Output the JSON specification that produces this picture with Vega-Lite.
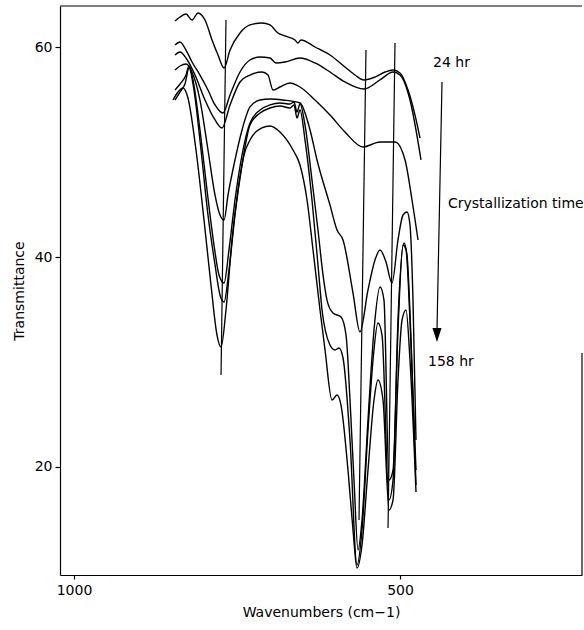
{
  "$schema": "https://vega.github.io/schema/vega-lite/v6.json",
  "width": 522,
  "height": 569,
  "autosize": {"type": "none"},
  "padding": {"left": 60, "top": 6, "right": 2, "bottom": 55},
  "background": "white",
  "config": {
    "view": {"stroke": null},
    "font": "DejaVu Sans",
    "axis": {
      "grid": false,
      "domainColor": "black",
      "domainWidth": 1.2,
      "tickColor": "black",
      "tickWidth": 1.2,
      "labelColor": "black",
      "titleColor": "black",
      "labelFont": "DejaVu Sans",
      "titleFont": "DejaVu Sans",
      "labelFontSize": 14,
      "titleFontSize": 14,
      "titleFontWeight": "normal"
    }
  },
  "datasets": {
    "spectra": [
      {"s": "s1", "wn": 845.1, "t": 62.48}, {"s": "s1", "wn": 837.4, "t": 62.86}, {"s": "s1", "wn": 828.2, "t": 63.14}, {"s": "s1", "wn": 819.0, "t": 62.57}, {"s": "s1", "wn": 809.8, "t": 63.24}, {"s": "s1", "wn": 799.1, "t": 62.57}, {"s": "s1", "wn": 788.3, "t": 60.67}, {"s": "s1", "wn": 779.1, "t": 59.24}, {"s": "s1", "wn": 769.9, "t": 58.0}, {"s": "s1", "wn": 760.7, "t": 59.71}, {"s": "s1", "wn": 745.4, "t": 61.33}, {"s": "s1", "wn": 730.1, "t": 62.1}, {"s": "s1", "wn": 711.7, "t": 62.29}, {"s": "s1", "wn": 699.4, "t": 62.1}, {"s": "s1", "wn": 687.1, "t": 61.33}, {"s": "s1", "wn": 676.4, "t": 61.05}, {"s": "s1", "wn": 661.1, "t": 60.67}, {"s": "s1", "wn": 656.5, "t": 60.38}, {"s": "s1", "wn": 651.9, "t": 60.67}, {"s": "s1", "wn": 630.4, "t": 60.0}, {"s": "s1", "wn": 607.4, "t": 59.24}, {"s": "s1", "wn": 584.4, "t": 58.1}, {"s": "s1", "wn": 569.0, "t": 57.33}, {"s": "s1", "wn": 555.2, "t": 56.86}, {"s": "s1", "wn": 538.4, "t": 57.14}, {"s": "s1", "wn": 523.0, "t": 57.62}, {"s": "s1", "wn": 510.7, "t": 57.81}, {"s": "s1", "wn": 500.0, "t": 57.52}, {"s": "s1", "wn": 487.7, "t": 55.9}, {"s": "s1", "wn": 477.0, "t": 53.52}, {"s": "s1", "wn": 469.3, "t": 51.33},

      {"s": "s2", "wn": 845.1, "t": 60.19}, {"s": "s2", "wn": 837.4, "t": 60.48}, {"s": "s2", "wn": 828.2, "t": 59.71}, {"s": "s2", "wn": 819.0, "t": 58.57}, {"s": "s2", "wn": 806.8, "t": 57.33}, {"s": "s2", "wn": 794.5, "t": 55.9}, {"s": "s2", "wn": 783.7, "t": 54.48}, {"s": "s2", "wn": 771.5, "t": 53.71}, {"s": "s2", "wn": 760.7, "t": 55.43}, {"s": "s2", "wn": 745.4, "t": 57.62}, {"s": "s2", "wn": 730.1, "t": 58.76}, {"s": "s2", "wn": 714.7, "t": 59.05}, {"s": "s2", "wn": 699.4, "t": 58.95}, {"s": "s2", "wn": 690.2, "t": 58.48}, {"s": "s2", "wn": 676.4, "t": 58.57}, {"s": "s2", "wn": 653.4, "t": 58.95}, {"s": "s2", "wn": 630.4, "t": 58.48}, {"s": "s2", "wn": 607.4, "t": 57.62}, {"s": "s2", "wn": 584.4, "t": 56.67}, {"s": "s2", "wn": 555.2, "t": 56.0}, {"s": "s2", "wn": 530.7, "t": 56.86}, {"s": "s2", "wn": 510.7, "t": 57.62}, {"s": "s2", "wn": 500.0, "t": 57.33}, {"s": "s2", "wn": 484.7, "t": 54.95}, {"s": "s2", "wn": 467.8, "t": 49.24},

      {"s": "s3", "wn": 845.1, "t": 59.24}, {"s": "s3", "wn": 837.4, "t": 59.52}, {"s": "s3", "wn": 828.2, "t": 58.95}, {"s": "s3", "wn": 814.4, "t": 57.33}, {"s": "s3", "wn": 799.1, "t": 54.95}, {"s": "s3", "wn": 783.7, "t": 53.05}, {"s": "s3", "wn": 773.0, "t": 52.29}, {"s": "s3", "wn": 760.7, "t": 54.48}, {"s": "s3", "wn": 745.4, "t": 56.67}, {"s": "s3", "wn": 730.1, "t": 57.33}, {"s": "s3", "wn": 711.7, "t": 57.62}, {"s": "s3", "wn": 702.5, "t": 57.33}, {"s": "s3", "wn": 694.8, "t": 55.9}, {"s": "s3", "wn": 684.1, "t": 56.19}, {"s": "s3", "wn": 668.7, "t": 56.57}, {"s": "s3", "wn": 653.4, "t": 56.19}, {"s": "s3", "wn": 630.4, "t": 54.95}, {"s": "s3", "wn": 607.4, "t": 53.52}, {"s": "s3", "wn": 584.4, "t": 51.9}, {"s": "s3", "wn": 556.8, "t": 50.48}, {"s": "s3", "wn": 530.7, "t": 50.95}, {"s": "s3", "wn": 507.7, "t": 50.95}, {"s": "s3", "wn": 492.3, "t": 49.24}, {"s": "s3", "wn": 481.6, "t": 45.43}, {"s": "s3", "wn": 472.4, "t": 41.62},

      {"s": "s4", "wn": 845.1, "t": 57.81}, {"s": "s4", "wn": 837.4, "t": 58.19}, {"s": "s4", "wn": 828.2, "t": 58.38}, {"s": "s4", "wn": 819.0, "t": 57.62}, {"s": "s4", "wn": 806.8, "t": 54.95}, {"s": "s4", "wn": 794.5, "t": 50.19}, {"s": "s4", "wn": 783.7, "t": 45.9}, {"s": "s4", "wn": 776.1, "t": 44.0}, {"s": "s4", "wn": 769.9, "t": 43.52}, {"s": "s4", "wn": 763.8, "t": 45.9}, {"s": "s4", "wn": 753.1, "t": 49.24}, {"s": "s4", "wn": 742.3, "t": 52.1}, {"s": "s4", "wn": 730.1, "t": 54.29}, {"s": "s4", "wn": 714.7, "t": 54.95}, {"s": "s4", "wn": 699.4, "t": 55.05}, {"s": "s4", "wn": 679.5, "t": 54.95}, {"s": "s4", "wn": 653.4, "t": 54.67}, {"s": "s4", "wn": 638.0, "t": 52.1}, {"s": "s4", "wn": 627.3, "t": 49.24}, {"s": "s4", "wn": 607.4, "t": 44.95}, {"s": "s4", "wn": 596.6, "t": 42.57}, {"s": "s4", "wn": 587.4, "t": 41.62}, {"s": "s4", "wn": 572.1, "t": 36.57}, {"s": "s4", "wn": 561.4, "t": 32.86}, {"s": "s4", "wn": 549.1, "t": 36.86}, {"s": "s4", "wn": 538.4, "t": 39.71}, {"s": "s4", "wn": 530.7, "t": 40.67}, {"s": "s4", "wn": 521.5, "t": 39.52}, {"s": "s4", "wn": 512.3, "t": 37.52}, {"s": "s4", "wn": 503.1, "t": 41.62}, {"s": "s4", "wn": 495.4, "t": 44.0}, {"s": "s4", "wn": 489.3, "t": 44.29}, {"s": "s4", "wn": 484.7, "t": 43.05}, {"s": "s4", "wn": 480.1, "t": 35.9}, {"s": "s4", "wn": 475.5, "t": 22.57},

      {"s": "s5", "wn": 845.1, "t": 55.9}, {"s": "s5", "wn": 837.4, "t": 56.48}, {"s": "s5", "wn": 828.2, "t": 57.33}, {"s": "s5", "wn": 823.6, "t": 58.19}, {"s": "s5", "wn": 817.5, "t": 56.86}, {"s": "s5", "wn": 806.8, "t": 52.1}, {"s": "s5", "wn": 796.0, "t": 46.38}, {"s": "s5", "wn": 785.3, "t": 41.14}, {"s": "s5", "wn": 777.6, "t": 38.29}, {"s": "s5", "wn": 769.9, "t": 37.52}, {"s": "s5", "wn": 762.3, "t": 40.67}, {"s": "s5", "wn": 753.1, "t": 45.43}, {"s": "s5", "wn": 742.3, "t": 49.71}, {"s": "s5", "wn": 730.1, "t": 52.76}, {"s": "s5", "wn": 714.7, "t": 54.0}, {"s": "s5", "wn": 699.4, "t": 54.48}, {"s": "s5", "wn": 684.1, "t": 54.67}, {"s": "s5", "wn": 668.7, "t": 54.57}, {"s": "s5", "wn": 662.6, "t": 54.76}, {"s": "s5", "wn": 658.0, "t": 53.81}, {"s": "s5", "wn": 653.4, "t": 54.57}, {"s": "s5", "wn": 645.7, "t": 52.57}, {"s": "s5", "wn": 635.0, "t": 47.33}, {"s": "s5", "wn": 625.8, "t": 42.57}, {"s": "s5", "wn": 618.1, "t": 38.29}, {"s": "s5", "wn": 612.0, "t": 35.9}, {"s": "s5", "wn": 602.8, "t": 34.67}, {"s": "s5", "wn": 590.5, "t": 34.29}, {"s": "s5", "wn": 582.8, "t": 32.57}, {"s": "s5", "wn": 576.7, "t": 26.38}, {"s": "s5", "wn": 570.6, "t": 18.76}, {"s": "s5", "wn": 564.4, "t": 12.1}, {"s": "s5", "wn": 558.3, "t": 14.95}, {"s": "s5", "wn": 549.1, "t": 24.48}, {"s": "s5", "wn": 539.9, "t": 33.05}, {"s": "s5", "wn": 530.7, "t": 37.14}, {"s": "s5", "wn": 524.6, "t": 35.9}, {"s": "s5", "wn": 516.9, "t": 18.76}, {"s": "s5", "wn": 510.7, "t": 19.71}, {"s": "s5", "wn": 503.1, "t": 33.05}, {"s": "s5", "wn": 495.4, "t": 41.14}, {"s": "s5", "wn": 490.8, "t": 40.67}, {"s": "s5", "wn": 484.7, "t": 34.0}, {"s": "s5", "wn": 475.5, "t": 19.71},

      {"s": "s6", "wn": 845.1, "t": 54.95}, {"s": "s6", "wn": 837.4, "t": 55.71}, {"s": "s6", "wn": 829.8, "t": 56.48}, {"s": "s6", "wn": 823.6, "t": 58.0}, {"s": "s6", "wn": 816.0, "t": 55.9}, {"s": "s6", "wn": 805.2, "t": 50.19}, {"s": "s6", "wn": 794.5, "t": 44.0}, {"s": "s6", "wn": 783.7, "t": 39.24}, {"s": "s6", "wn": 776.1, "t": 36.38}, {"s": "s6", "wn": 769.9, "t": 35.71}, {"s": "s6", "wn": 762.3, "t": 38.76}, {"s": "s6", "wn": 753.1, "t": 44.0}, {"s": "s6", "wn": 742.3, "t": 48.76}, {"s": "s6", "wn": 730.1, "t": 52.57}, {"s": "s6", "wn": 714.7, "t": 53.71}, {"s": "s6", "wn": 699.4, "t": 54.19}, {"s": "s6", "wn": 684.1, "t": 54.38}, {"s": "s6", "wn": 668.7, "t": 54.19}, {"s": "s6", "wn": 662.6, "t": 54.48}, {"s": "s6", "wn": 658.0, "t": 53.24}, {"s": "s6", "wn": 653.4, "t": 54.0}, {"s": "s6", "wn": 645.7, "t": 51.14}, {"s": "s6", "wn": 635.0, "t": 45.43}, {"s": "s6", "wn": 625.8, "t": 39.24}, {"s": "s6", "wn": 619.6, "t": 34.95}, {"s": "s6", "wn": 607.4, "t": 31.62}, {"s": "s6", "wn": 599.7, "t": 31.14}, {"s": "s6", "wn": 593.6, "t": 31.33}, {"s": "s6", "wn": 587.4, "t": 30.38}, {"s": "s6", "wn": 576.7, "t": 22.57}, {"s": "s6", "wn": 566.0, "t": 10.67}, {"s": "s6", "wn": 558.3, "t": 14.0}, {"s": "s6", "wn": 549.1, "t": 23.52}, {"s": "s6", "wn": 541.4, "t": 30.19}, {"s": "s6", "wn": 533.8, "t": 33.71}, {"s": "s6", "wn": 527.6, "t": 32.57}, {"s": "s6", "wn": 516.9, "t": 16.86}, {"s": "s6", "wn": 510.7, "t": 18.76}, {"s": "s6", "wn": 503.1, "t": 34.0}, {"s": "s6", "wn": 493.9, "t": 41.33}, {"s": "s6", "wn": 489.3, "t": 40.19}, {"s": "s6", "wn": 483.1, "t": 32.1}, {"s": "s6", "wn": 475.5, "t": 18.29},

      {"s": "s7", "wn": 848.2, "t": 54.95}, {"s": "s7", "wn": 840.5, "t": 55.71}, {"s": "s7", "wn": 832.8, "t": 56.1}, {"s": "s7", "wn": 825.2, "t": 55.14}, {"s": "s7", "wn": 812.9, "t": 50.19}, {"s": "s7", "wn": 800.6, "t": 43.52}, {"s": "s7", "wn": 789.9, "t": 37.33}, {"s": "s7", "wn": 780.7, "t": 32.57}, {"s": "s7", "wn": 774.5, "t": 31.43}, {"s": "s7", "wn": 766.9, "t": 34.95}, {"s": "s7", "wn": 757.7, "t": 41.62}, {"s": "s7", "wn": 748.5, "t": 46.38}, {"s": "s7", "wn": 739.3, "t": 49.71}, {"s": "s7", "wn": 730.1, "t": 51.14}, {"s": "s7", "wn": 711.7, "t": 52.29}, {"s": "s7", "wn": 699.4, "t": 52.48}, {"s": "s7", "wn": 684.1, "t": 51.9}, {"s": "s7", "wn": 664.1, "t": 50.19}, {"s": "s7", "wn": 653.4, "t": 48.76}, {"s": "s7", "wn": 642.6, "t": 45.43}, {"s": "s7", "wn": 633.4, "t": 40.67}, {"s": "s7", "wn": 622.7, "t": 34.95}, {"s": "s7", "wn": 615.0, "t": 31.14}, {"s": "s7", "wn": 604.3, "t": 26.38}, {"s": "s7", "wn": 596.6, "t": 26.86}, {"s": "s7", "wn": 590.5, "t": 25.9}, {"s": "s7", "wn": 579.8, "t": 19.71}, {"s": "s7", "wn": 572.1, "t": 14.0}, {"s": "s7", "wn": 566.0, "t": 10.38}, {"s": "s7", "wn": 558.3, "t": 12.57}, {"s": "s7", "wn": 549.1, "t": 19.71}, {"s": "s7", "wn": 539.9, "t": 26.38}, {"s": "s7", "wn": 533.8, "t": 28.29}, {"s": "s7", "wn": 526.1, "t": 26.38}, {"s": "s7", "wn": 516.9, "t": 15.9}, {"s": "s7", "wn": 510.7, "t": 16.86}, {"s": "s7", "wn": 503.1, "t": 28.29}, {"s": "s7", "wn": 496.9, "t": 34.0}, {"s": "s7", "wn": 490.8, "t": 34.95}, {"s": "s7", "wn": 484.7, "t": 30.19}, {"s": "s7", "wn": 475.5, "t": 17.62}
    ],
    "markers": [
      {"x": 766.9, "x2": 774.5, "y": 62.57, "y2": 28.76},
      {"x": 552.2, "x2": 562.9, "y": 59.71, "y2": 14.95},
      {"x": 507.7, "x2": 518.4, "y": 60.38, "y2": 14.19},
      {"x": 435.6, "x2": 443.3, "y": 56.67, "y2": 33.05},
      {"x": 1021.47, "x2": 220.9, "y": 63.905, "y2": 63.905},
      {"x": 220.9, "x2": 220.9, "y": 30.86, "y2": 9.714}
    ],
    "arrowhead": [
      {"x": 443.3, "y": 32.57}
    ],
    "labels": [
      {"x": 449.4, "y": 58.48, "text": "24 hr"},
      {"x": 426.4, "y": 45.05, "text": "Crystallization time"},
      {"x": 457.1, "y": 30.0, "text": "158 hr"}
    ]
  },
  "layer": [
    {
      "data": {"name": "spectra"},
      "mark": {"type": "line", "stroke": "black", "strokeWidth": 1.4, "strokeJoin": "round", "interpolate": "monotone"},
      "encoding": {
        "x": {
          "field": "wn", "type": "quantitative",
          "scale": {"domain": [220.9, 1021.47], "reverse": true, "nice": false, "zero": false},
          "axis": {"values": [1000, 500], "format": "d", "title": "Wavenumbers (cm\u22121)", "tickSize": 4, "labelPadding": 4, "titlePadding": 8, "labelFlush": false}
        },
        "y": {
          "field": "t", "type": "quantitative",
          "scale": {"domain": [9.714, 63.905], "nice": false, "zero": false},
          "axis": {"values": [20, 40, 60], "format": "d", "title": "Transmittance", "tickSize": 5, "labelPadding": 3, "titlePadding": 8}
        },
        "detail": {"field": "s", "type": "nominal"}
      }
    },
    {
      "data": {"name": "markers"},
      "mark": {"type": "rule", "stroke": "black", "strokeWidth": 1.2},
      "encoding": {
        "x": {"field": "x", "type": "quantitative"},
        "x2": {"field": "x2"},
        "y": {"field": "y", "type": "quantitative"},
        "y2": {"field": "y2"}
      }
    },
    {
      "data": {"name": "arrowhead"},
      "mark": {"type": "point", "shape": "M-0.65,-1L0.65,-1L0,1Z", "size": 196, "filled": true, "fill": "black", "stroke": null, "opacity": 1},
      "encoding": {
        "x": {"field": "x", "type": "quantitative"},
        "y": {"field": "y", "type": "quantitative"}
      }
    },
    {
      "data": {"name": "labels"},
      "mark": {"type": "text", "align": "left", "baseline": "middle", "font": "DejaVu Sans", "fontSize": 14, "fill": "black"},
      "encoding": {
        "x": {"field": "x", "type": "quantitative"},
        "y": {"field": "y", "type": "quantitative"},
        "text": {"field": "text"}
      }
    }
  ]
}
